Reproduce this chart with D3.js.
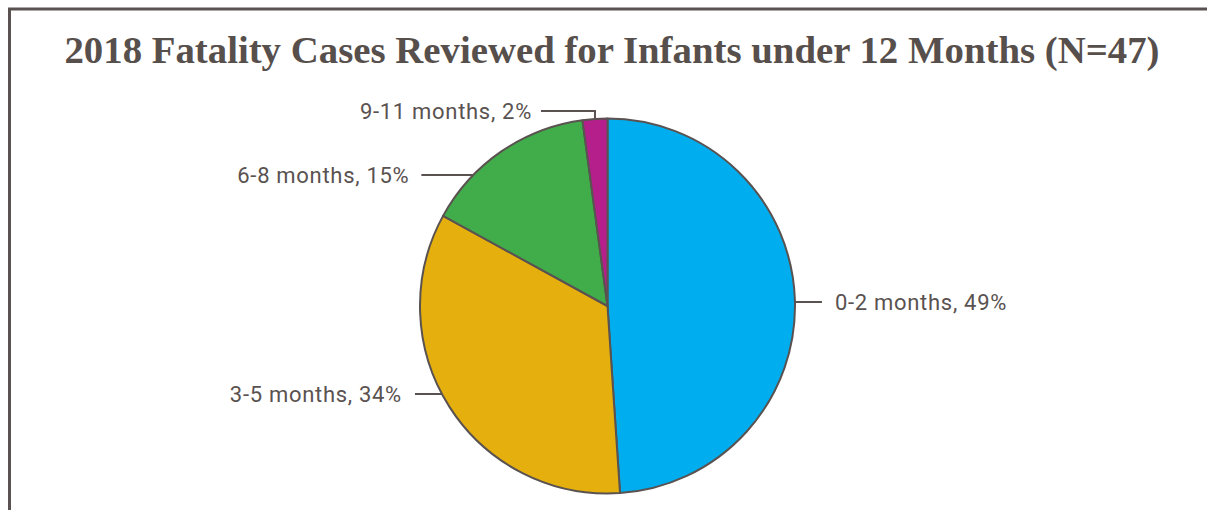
<!DOCTYPE html>
<html>
<head>
<meta charset="utf-8">
<script src="https://cdn.jsdelivr.net/npm/d3@7"></script>
<style>
  html, body { margin: 0; padding: 0; background: #ffffff; }
  svg { display: block; }
</style>
</head>
<body>
<svg id="chart" width="1207" height="510"></svg>
<script>
// Age groups and number of reviewed fatality cases (N = 47)
const categories = ["0-2 months", "3-5 months", "6-8 months", "9-11 months"];
const cases = [23, 16, 7, 1];
const percentLabels = ["49%", "34%", "15%", "2%"];
const sliceColors = ["#00aeef", "#e5b00e", "#41ad4a", "#b51f8b"];

const titleText = "2018 Fatality Cases Reviewed for Infants under 12 Months (N=47)";

const width = 1207, height = 510;
const cx = 607.5, cy = 306, radius = 187.5;
const ink = "#5a5250";

// Label layout: vertical position of each callout and which side it sits on
const labelLayout = {
  "0-2 months":  { y: 302, side: "right", gap: 27, textGap: 13 },
  "3-5 months":  { y: 394, side: "left",  gap: 27, textGap: 13 },
  "6-8 months":  { y: 175, side: "left",  gap: 52, textGap: 12 },
  "9-11 months": { y: 111, side: "left",  gap: 54, textGap: 9, elbow: true }
};

const svg = d3.select("#chart");

// Frame: top and left rules
svg.append("line")
  .attr("x1", 8).attr("x2", width).attr("y1", 9).attr("y2", 9)
  .attr("stroke", ink).attr("stroke-width", 3);
svg.append("line")
  .attr("x1", 9.5).attr("x2", 9.5).attr("y1", 8).attr("y2", height)
  .attr("stroke", ink).attr("stroke-width", 3);

// Title
svg.append("text")
  .attr("x", 612).attr("y", 63)
  .attr("text-anchor", "middle")
  .attr("font-family", "'Liberation Serif', 'Times New Roman', serif")
  .attr("font-weight", "bold")
  .attr("font-size", 38.8)
  .attr("fill", "#574f4c")
  .text(titleText);

const data = categories.map((c, i) => ({
  category: c, value: cases[i], pct: percentLabels[i], color: sliceColors[i]
}));

const pie = d3.pie().value(d => d.value).sort(null);
const arc = d3.arc().innerRadius(0).outerRadius(radius);
const arcs = pie(data);

const g = svg.append("g").attr("transform", `translate(${cx},${cy})`);

g.selectAll("path.slice")
  .data(arcs)
  .join("path")
  .attr("class", "slice")
  .attr("d", arc)
  .attr("fill", d => d.data.color)
  .attr("stroke", ink)
  .attr("stroke-width", 2)
  .attr("stroke-linejoin", "round");

// Callouts with leader lines
const labels = svg.append("g");
arcs.forEach(a => {
  const cat = a.data.category;
  const lay = labelLayout[cat];
  const mid = (a.startAngle + a.endAngle) / 2;
  let x0, y0 = lay.y, xEnd;
  const path = d3.path();

  if (lay.elbow) {
    // bend from the slice's rim up to the label row
    const ex = cx + radius * Math.sin(mid);
    const ey = cy - radius * Math.cos(mid);
    x0 = ex;
    xEnd = x0 - lay.gap;
    path.moveTo(ex, ey);
    path.lineTo(ex, y0);
    path.lineTo(xEnd, y0);
  } else {
    const dy = y0 - cy;
    const dx = Math.sqrt(radius * radius - dy * dy);
    x0 = lay.side === "right" ? cx + dx : cx - dx;
    xEnd = lay.side === "right" ? x0 + lay.gap : x0 - lay.gap;
    path.moveTo(x0, y0);
    path.lineTo(xEnd, y0);
  }

  labels.append("path")
    .attr("d", path.toString())
    .attr("fill", "none")
    .attr("stroke", ink)
    .attr("stroke-width", 2);

  labels.append("text")
    .attr("x", lay.side === "right" ? xEnd + lay.textGap : xEnd - lay.textGap)
    .attr("y", y0)
    .attr("dy", "0.35em")
    .attr("text-anchor", lay.side === "right" ? "start" : "end")
    .attr("font-family", "Roboto, 'Noto Sans', sans-serif")
    .attr("font-size", 22)
    .attr("letter-spacing", 0.7)
    .attr("fill", ink)
    .text(`${cat}, ${a.data.pct}`);
});
</script>
</body>
</html>
